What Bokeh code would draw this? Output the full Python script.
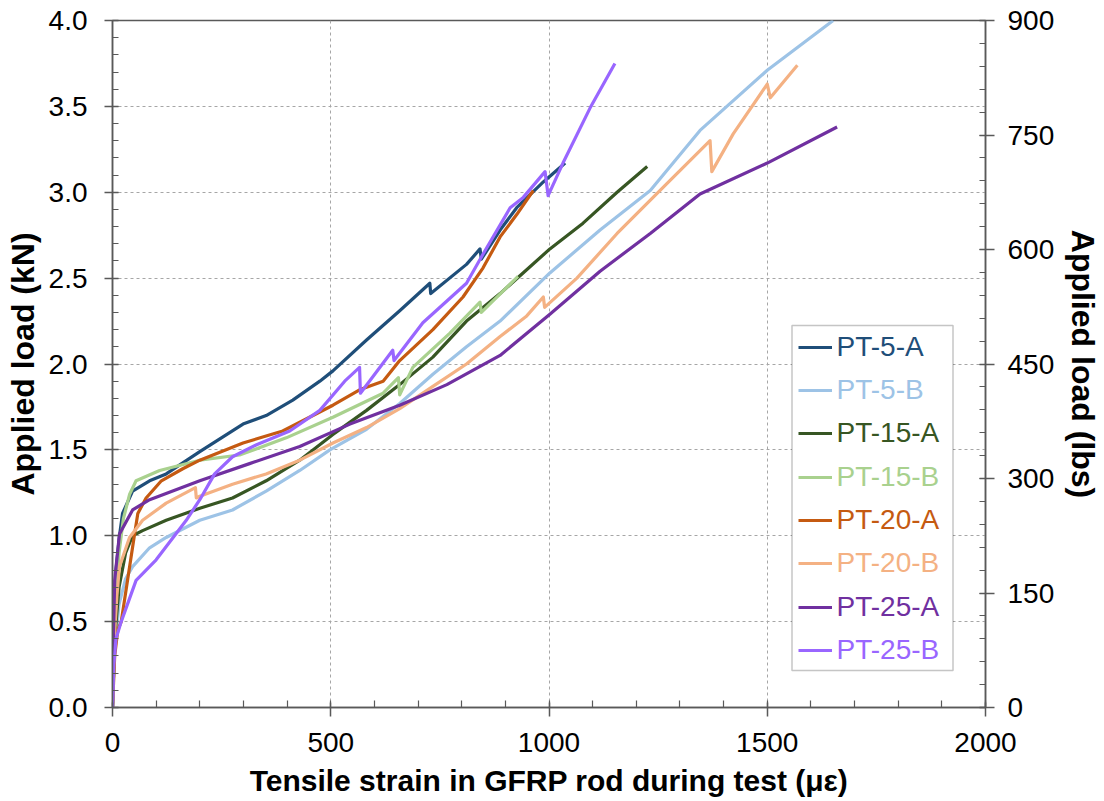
from bokeh.plotting import figure
from bokeh.models import (Range1d, LinearAxis, SingleIntervalTicker, PrintfTickFormatter,
                          Legend, LegendItem, BoxAnnotation)
from bokeh.embed import file_html
from bokeh.resources import INLINE

# ---------------- data (strain in micro-strain, load in kN) ----------------
names = ["PT-5-A", "PT-5-B", "PT-15-A", "PT-15-B", "PT-20-A", "PT-20-B", "PT-25-A", "PT-25-B"]
colors = ["#1f4e79", "#9dc3e6", "#375623", "#a9d18e", "#c55a11", "#f4b183", "#7030a0", "#9966ff"]

pt5a_x = [0, 3, 8, 16, 23, 46, 85, 123, 200, 299, 352, 413, 475, 505, 582, 658, 727, 729, 811, 842, 845, 888, 926, 987, 1037]
pt5a_y = [0, 0.45, 0.8, 1.0, 1.13, 1.26, 1.32, 1.36, 1.49, 1.65, 1.70, 1.79, 1.90, 1.96, 2.14, 2.31, 2.47, 2.41, 2.58, 2.67, 2.61, 2.78, 2.91, 3.06, 3.17]

pt5b_x = [0, 5, 15, 30, 46, 85, 123, 200, 275, 352, 429, 498, 582, 658, 734, 811, 888, 1002, 1117, 1232, 1346, 1500, 1651]
pt5b_y = [0, 0.35, 0.6, 0.75, 0.82, 0.93, 0.99, 1.09, 1.15, 1.26, 1.38, 1.50, 1.62, 1.77, 1.94, 2.10, 2.25, 2.53, 2.78, 3.01, 3.36, 3.71, 4.0]

pt15a_x = [0, 5, 15, 30, 46, 69, 123, 200, 275, 352, 429, 505, 582, 658, 734, 811, 888, 1002, 1078, 1156, 1225]
pt15a_y = [0, 0.4, 0.7, 0.9, 1.0, 1.03, 1.09, 1.16, 1.22, 1.32, 1.44, 1.59, 1.73, 1.88, 2.04, 2.25, 2.41, 2.67, 2.82, 3.0, 3.15]

pt15b_x = [0, 5, 15, 25, 39, 54, 108, 200, 291, 398, 505, 620, 655, 658, 688, 773, 842, 845, 929]
pt15b_y = [0, 0.5, 0.9, 1.1, 1.24, 1.32, 1.38, 1.44, 1.47, 1.57, 1.69, 1.83, 1.92, 1.82, 1.98, 2.18, 2.36, 2.30, 2.51]

pt20a_x = [0, 5, 12, 20, 35, 50, 58, 77, 112, 161, 200, 299, 390, 505, 566, 620, 658, 734, 803, 849, 888, 926, 964]
pt20a_y = [0, 0.3, 0.45, 0.5, 0.75, 1.0, 1.13, 1.22, 1.32, 1.39, 1.44, 1.54, 1.61, 1.76, 1.85, 1.90, 2.02, 2.20, 2.39, 2.56, 2.74, 2.87, 3.01]

pt20b_x = [0, 4, 10, 16, 39, 69, 123, 190, 192, 200, 275, 352, 429, 505, 582, 658, 734, 811, 888, 949, 987, 990, 1064, 1156, 1270, 1369, 1373, 1422, 1500, 1507, 1569]
pt20b_y = [0, 0.4, 0.65, 0.82, 0.99, 1.09, 1.19, 1.28, 1.22, 1.23, 1.30, 1.36, 1.44, 1.54, 1.63, 1.74, 1.87, 2.00, 2.16, 2.28, 2.39, 2.33, 2.50, 2.76, 3.05, 3.30, 3.12, 3.34, 3.63, 3.55, 3.74]

pt25a_x = [0, 2, 5, 16, 46, 85, 200, 314, 429, 544, 658, 766, 888, 1002, 1117, 1232, 1346, 1500, 1660]
pt25a_y = [0, 0.4, 0.74, 1.01, 1.15, 1.21, 1.32, 1.42, 1.52, 1.65, 1.76, 1.88, 2.05, 2.29, 2.54, 2.76, 2.99, 3.17, 3.38]

pt25b_x = [0, 3, 8, 20, 54, 100, 142, 169, 200, 234, 275, 330, 406, 475, 532, 566, 568, 642, 645, 711, 811, 849, 911, 941, 991, 998, 1032, 1094, 1151]
pt25b_y = [0, 0.25, 0.4, 0.5, 0.74, 0.86, 1.0, 1.09, 1.21, 1.36, 1.46, 1.53, 1.61, 1.73, 1.90, 1.98, 1.83, 2.08, 2.02, 2.24, 2.47, 2.64, 2.91, 2.97, 3.12, 2.98, 3.17, 3.49, 3.75]

xs = [pt5a_x, pt5b_x, pt15a_x, pt15b_x, pt20a_x, pt20b_x, pt25a_x, pt25b_x]
ys = [pt5a_y, pt5b_y, pt15a_y, pt15b_y, pt20a_y, pt20b_y, pt25a_y, pt25b_y]

x_ticks_interval = 500
y_ticks_interval = 0.5
lbs_ticks_interval = 150
KN_MAX = 4.0
LBS_MAX = 900

FONT = "Liberation Sans"
AXIS_COL = "#595959"

p = figure(frame_width=873, frame_height=687, x_range=Range1d(0, 2000), y_range=Range1d(0, KN_MAX),
           output_backend="svg", toolbar_location=None,
           min_border_left=112, min_border_right=20, min_border_top=20, min_border_bottom=20)
p.background_fill_color = "white"
p.border_fill_color = "white"
p.outline_line_color = AXIS_COL
p.outline_line_width = 1.5

p.extra_y_ranges = {"lbs": Range1d(0, LBS_MAX)}

renderers = []
for x, y, c in zip(xs, ys, colors):
    r = p.line(x, y, line_color=c, line_width=3.2, line_join="round")
    renderers.append(r)

# axes
xt = SingleIntervalTicker(interval=x_ticks_interval, num_minor_ticks=5)
yt = SingleIntervalTicker(interval=y_ticks_interval, num_minor_ticks=5)
rt = SingleIntervalTicker(interval=lbs_ticks_interval, num_minor_ticks=5)

xa = p.xaxis[0]
xa.ticker = xt
xa.axis_label = "Tensile strain in GFRP rod during test (\u03bc\u03b5)"
xa.major_tick_in = 5
xa.major_tick_out = 9
xa.minor_tick_in = 7
xa.minor_tick_out = 0
xa.major_label_standoff = 16
xa.axis_label_standoff = 9

ya = p.yaxis[0]
ya.ticker = yt
ya.formatter = PrintfTickFormatter(format="%.1f")
ya.axis_label = "Applied load (kN)"
ya.major_tick_in = 6
ya.major_tick_out = 8
ya.minor_tick_in = 6
ya.minor_tick_out = 0
ya.major_label_standoff = 17
ya.axis_label_standoff = 5

ra = LinearAxis(y_range_name="lbs", ticker=rt, axis_label="Applied load (lbs)")
ra.major_tick_in = 6
ra.major_tick_out = 9
ra.minor_tick_in = 6
ra.minor_tick_out = 0
ra.major_label_standoff = 13
ra.axis_label_standoff = 8
p.add_layout(ra, "right")

for ax in [xa, ya, ra]:
    ax.axis_line_color = AXIS_COL
    ax.axis_line_width = 1.5
    ax.major_tick_line_color = AXIS_COL
    ax.major_tick_line_width = 1.5
    ax.minor_tick_line_color = AXIS_COL
    ax.minor_tick_line_width = 1.2
    ax.major_label_text_font = FONT
    ax.major_label_text_font_size = "28px"
    ax.major_label_text_color = "#000000"
    ax.axis_label_text_font = FONT
    ax.axis_label_text_font_size = "30px"
    ax.axis_label_text_font_style = "bold"
    ax.axis_label_text_color = "#000000"
ya.axis_label_text_font_size = "32px"
ra.axis_label_text_font_size = "32px"

p.xgrid.ticker = xt
p.ygrid.ticker = yt
for g in [p.xgrid[0], p.ygrid[0]]:
    g.grid_line_color = "#a6a6a6"
    g.grid_line_dash = "3 3"
    g.grid_line_width = 1

# legend: frame box + one legend per series so each label takes its series colour
box_left, box_right, box_bottom, box_top = 679.5, 840.5, 37, 382
p.add_layout(BoxAnnotation(left=box_left, right=box_right, bottom=box_bottom, top=box_top,
                           left_units="screen", right_units="screen",
                           bottom_units="screen", top_units="screen",
                           fill_color="white", fill_alpha=1.0,
                           line_color="#404040", line_width=1.5, level="overlay"))

row_h = 34
first_center = 360.3   # screen px above frame bottom for first row
step = 43.33
for i, (nm, c, r) in enumerate(zip(names, colors, renderers)):
    center = first_center - i * step
    leg = Legend(items=[LegendItem(label=nm, renderers=[r])],
                 location=(box_left + 6, center - row_h / 2),
                 label_text_color=c, label_text_font=FONT, label_text_font_size="28px",
                 glyph_width=34, glyph_height=row_h, label_height=row_h, label_standoff=5,
                 padding=0, margin=0, spacing=0,
                 border_line_alpha=0, background_fill_alpha=0)
    p.add_layout(leg)

open("out.html", "w").write(file_html(p, INLINE))
